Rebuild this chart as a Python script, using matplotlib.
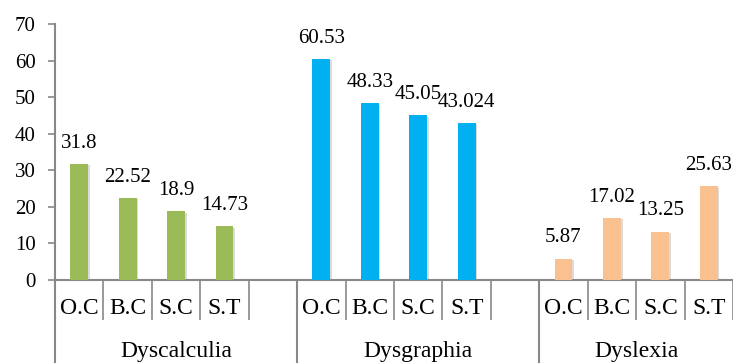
import matplotlib.pyplot as plt
import matplotlib.patheffects as pe
import numpy as np

plt.rcParams['font.family'] = ['Liberation Serif', 'DejaVu Serif']

groups = ["Dyscalculia", "Dysgraphia", "Dyslexia"]
measures = ["O.C", "B.C", "S.C", "S.T"]
dyscalculia = [31.8, 22.52, 18.9, 14.73]
dysgraphia = [60.53, 48.33, 45.05, 43.024]
dyslexia = [5.87, 17.02, 13.25, 25.63]
labels = [["31.8", "22.52", "18.9", "14.73"],
          ["60.53", "48.33", "45.05", "43.024"],
          ["5.87", "17.02", "13.25", "25.63"]]
colors = ["#9BBB59", "#00B0F0", "#FAC090"]

series = [dyscalculia, dysgraphia, dyslexia]
slots_per_group = 5  # four measures plus an empty slot
n_slots = 14

fig = plt.figure(figsize=(7.33, 3.63), dpi=100)
ax = fig.add_axes([55 / 733, 83 / 363, 678 / 733, 256 / 363])

shadow = [pe.SimplePatchShadow(offset=(1.2, -1.2), shadow_rgbFace="#999999", alpha=0.35), pe.Normal()]
for g, vals in enumerate(series):
    x = g * slots_per_group + np.arange(len(vals)) + 0.5
    bars = ax.bar(x, vals, width=0.37, color=colors[g], zorder=3)
    for b in bars:
        b.set_path_effects(shadow)
    for xi, v, t in zip(x, vals, labels[g]):
        ax.annotate(t, (xi, v), xytext=(0, 8), textcoords="offset points",
                    ha="center", va="bottom", fontsize=15)

ax.set_xlim(0, n_slots)
ax.set_ylim(0, 70)
ax.set_yticks(np.arange(0, 71, 10))
ax.tick_params(axis="y", labelsize=15, color="#888888", length=5, width=1.2, pad=9)

for s in ["top", "right"]:
    ax.spines[s].set_visible(False)
for s in ["left", "bottom"]:
    ax.spines[s].set_color("#888888")
    ax.spines[s].set_linewidth(1.5)

# inner category level: separators between slots, labels at slot centers
centers = []
names = []
for g in range(len(groups)):
    for i, m in enumerate(measures):
        centers.append(g * slots_per_group + i + 0.5)
        names.append(m)
ax.set_xticks(np.arange(0, n_slots + 1))
ax.set_xticklabels([])
ax.tick_params(axis="x", which="major", length=29, width=1.2, color="#888888")
ax.set_xticks(centers, minor=True)
ax.set_xticklabels(names, minor=True)
ax.tick_params(axis="x", which="minor", length=0, labelsize=17, pad=13)

# outer category level: group separators and group names
outer = ax.secondary_xaxis("bottom")
outer.set_xticks([0, 5, 10])
outer.set_xticklabels([])
outer.tick_params(axis="x", which="major", length=62, width=1.5, color="#888888")
outer.set_xticks([2.5, 7.5, 12.0], minor=True)
outer.set_xticklabels(groups, minor=True)
outer.tick_params(axis="x", which="minor", length=0, labelsize=17, pad=44)
outer.spines["bottom"].set_visible(False)

fig.savefig("out.png", dpi=100)
